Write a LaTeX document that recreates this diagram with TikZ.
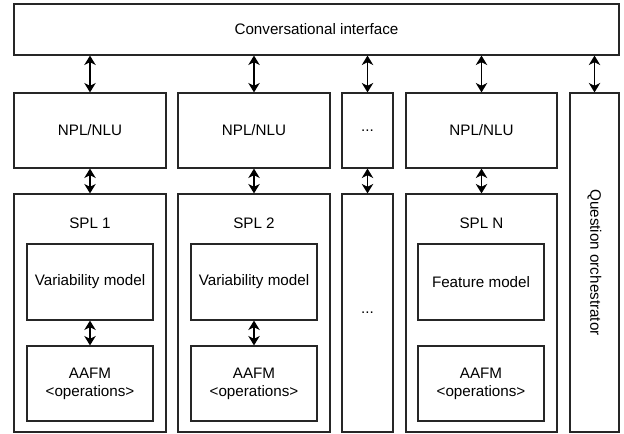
\documentclass[tikz,border=0pt]{standalone}
\usepackage{fontspec}
\setmainfont{Liberation Sans}
\usetikzlibrary{arrows.meta}
\begin{document}
\begin{tikzpicture}[x=0.75pt,y=-0.75pt,
  every node/.style={font=\fontsize{11.4}{13}\selectfont},
  box/.style 2 args={draw=black!85, line width=0.9pt, fill=white, inner sep=0pt,
    minimum width=#1*0.75pt, minimum height=#2*0.75pt, align=center},
  lbl/.style={inner sep=0pt},
  biarrow/.style={line width=1pt, {Stealth[length=7pt,width=8.5pt,inset=2pt]}-{Stealth[length=7pt,width=8.5pt,inset=2pt]}}
]
\useasboundingbox (0,0) rectangle (624,434);

% top layer
\node[box={605}{51}] (ci) at (316.5,29.5) {Conversational interface};

% NLP layer
\node[box={152}{75}] (npl1) at (90,130.5) {NPL/NLU};
\node[box={152}{75}] (npl2) at (254,130.5) {NPL/NLU};
\node[box={51}{75}] (nplx) at (367.5,130.5) {...};
\node[box={151}{75}] (npln) at (481.5,130.5) {NPL/NLU};

% orchestrator column
\node[box={49}{339}] (qo) at (594.5,262.5) {};
\node[lbl, rotate=-90] (qot) at (qo.center) {Question orchestrator};

% product lines
\node[box={152}{238}] (spl1) at (90,313) {};
\node[box={152}{238}] (spl2) at (254,313) {};
\node[box={51}{238}] (splx) at (367.5,313) {...};
\node[box={151}{238}] (spln) at (481.5,313) {};

\node[lbl] (spl1t) at (90,223) {SPL 1};
\node[lbl] (spl2t) at (254,223) {SPL 2};
\node[lbl] (splnt) at (481.5,223) {SPL N};

\node[box={126}{76}] (vm1) at (90,282) {Variability model};
\node[box={126}{76}] (vm2) at (254,282) {Variability model};
\node[box={126}{76}] (fmn) at (481,282) {Feature model};

\node[box={126}{75}] (op1) at (90,383.5) {AAFM\\[0.5pt]<operations>};
\node[box={126}{75}] (op2) at (254,383.5) {AAFM\\[0.5pt]<operations>};
\node[box={126}{75}] (opn) at (481,383.5) {AAFM\\[0.5pt]<operations>};

% connectors
\foreach \n in {npl1,npl2,nplx,npln,qo}
  \draw[biarrow] (\n.north |- ci.south) -- (\n.north);
\draw[biarrow] (npl1.south) -- (spl1.north);
\draw[biarrow] (npl2.south) -- (spl2.north);
\draw[biarrow] (nplx.south) -- (splx.north);
\draw[biarrow] (npln.south) -- (spln.north);
\draw[biarrow] (vm1.south) -- (op1.north);
\draw[biarrow] (vm2.south) -- (op2.north);
\end{tikzpicture}
\end{document}
